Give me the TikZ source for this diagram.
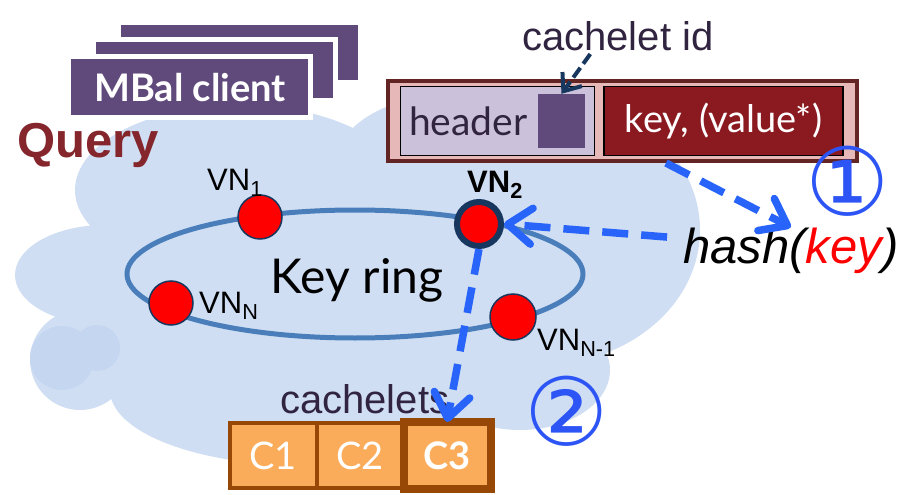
\documentclass[tikz,border=0pt]{standalone}
\usepackage{fontspec}
\setmainfont{Liberation Sans}
\newfontfamily\gillfont{Lato}
\newfontfamily\symfont{DejaVu Sans}
\usetikzlibrary{arrows.meta,positioning,calc}

\definecolor{cloudblue}{RGB}{207,222,243}
\definecolor{cloudshade}{RGB}{197,215,240}
\definecolor{mbpurple}{RGB}{96,74,123}
\definecolor{qred}{RGB}{132,38,43}
\definecolor{pktpink}{RGB}{230,185,184}
\definecolor{pktborder}{RGB}{99,37,35}
\definecolor{hdrlav}{RGB}{204,193,218}
\definecolor{keyred}{RGB}{138,26,32}
\definecolor{darktext}{RGB}{48,36,64}
\definecolor{cidnavy}{RGB}{23,55,94}
\definecolor{ringblue}{RGB}{74,126,187}
\definecolor{vnnavy}{RGB}{23,55,94}
\definecolor{flowblue}{RGB}{40,100,250}
\definecolor{numblue}{RGB}{45,85,245}
\definecolor{corange}{RGB}{250,172,90}
\definecolor{cbrown}{RGB}{151,72,6}

\newcommand{\fsz}[1]{\fontsize{#1}{#1}\selectfont}

\begin{document}
\begin{tikzpicture}[x=1pt,y=-1pt,
  vn/.style={circle,draw=vnnavy,line width=1.5pt,fill=red,minimum size=44pt,inner sep=0pt},
  lbl/.style={inner sep=0pt,anchor=base west,font=\fsz{31}},
  flow/.style={flowblue,line width=7.5pt,dash pattern=on 26pt off 13pt,-{Straight Barb[length=24pt,width=36pt,round]}},
  stepnum/.style={inner sep=0pt,text=numblue,font=\symfont\fsz{94}},
  cbox/.style={draw=cbrown,line width=4pt,fill=corange,minimum width=87pt,minimum height=65pt,inner sep=0pt,outer sep=0pt,text=white,font=\gillfont\fsz{38}},
  client/.style={draw=white,line width=5pt,fill=mbpurple,minimum width=242pt,minimum height=60pt,inner sep=0pt}]

\useasboundingbox (0,0) rectangle (916,495);

% cloud
\fill[cloudblue] (330,290) ellipse [x radius=250,y radius=150]
  (540,230) ellipse [x radius=160,y radius=135]
  (460,165) ellipse [x radius=125,y radius=72]
  (240,190) ellipse [x radius=165,y radius=85]
  (105,275) ellipse [x radius=90,y radius=50]
  (80,360) circle [radius=50]
  (300,390) ellipse [x radius=190,y radius=75]
  (520,370) ellipse [x radius=90,y radius=60];
\fill[cloudshade] (62,358) circle [radius=32] (97,348) circle [radius=23];

% client stack
\node[client,name=cback] at (239,53) {};
\node[client,name=cmid] at (214,70) {};
\node[client,name=cfront] at (189,87) {};
\node[name=mbal,anchor=base,inner sep=0pt,text=white,font=\gillfont\bfseries\fsz{38}] at (190,101) {MBal client};
\node[name=query,anchor=base west,inner sep=0pt,text=qred,font=\bfseries\fsz{49}] at (17,157) {Query};

% packet
\node[name=pkt,draw=pktborder,line width=4pt,fill=pktpink,minimum width=469pt,minimum height=80pt] at (622.5,121) {};
\node[name=hdr,draw=black,line width=1.5pt,fill=hdrlav,minimum width=194pt,minimum height=69pt] at (497.5,121) {};
\node[name=idsq,fill=mbpurple,minimum width=47pt,minimum height=54pt,inner sep=0pt] at (561.5,121) {};
\node[name=hdrtxt,anchor=base west,inner sep=0pt,text=darktext,font=\gillfont\fsz{39}] at (409,135) {header};
\node[name=keyf,draw=black,line width=1.5pt,fill=keyred,minimum width=239pt,minimum height=69pt,text=white,font=\gillfont\fsz{38}] at (723.5,121) {key, (value*)};
\node[name=cid,anchor=base west,inner sep=0pt,text=darktext,font=\fsz{40}] at (522,51) {cachelet id};

% key ring
\draw[ringblue,line width=5pt] (355,274) ellipse [x radius=228,y radius=64];
\node[name=ring,font=\gillfont\fsz{48}] at (357,280) {Key ring};

\node[vn,name=vnone] at (260,217) {};
\node[vn,name=vntwo,line width=6pt] at (479,224) {};
\node[vn,name=vnn] at (171,303) {};
\node[vn,name=vnnm,minimum size=46pt] at (513,317) {};

\node[lbl,name=vnonelbl] at (207,190) {VN\textsubscript{1}};
\node[lbl,name=vntwolbl,font=\bfseries\fsz{31}] at (467,192) {VN\textsubscript{2}};
\node[lbl,name=vnnlbl] at (199,313) {VN\textsubscript{N}};
\node[lbl,name=vnnmlbl] at (537,350) {VN\textsubscript{N-1}};

\node[name=hash,anchor=base west,inner sep=0pt,font=\itshape\fsz{49}] at (683,263) {hash(\textcolor{red}{key})};
\node[stepnum,name=stepone] at (848,181) {①};
\node[stepnum,name=steptwo] at (567,411) {②};

% cachelets
\node[name=cachelets,anchor=base west,inner sep=0pt,text=darktext,font=\fsz{40}] at (280,413) {cachelets};
\node[cbox,name=cone] at (273,455.5) {C1};
\node[cbox,name=ctwo,right=0pt of cone] {C2};
\node[cbox,name=cthree,right=0pt of ctwo,line width=8pt,minimum height=67pt,font=\gillfont\bfseries\fsz{38}] {C3};

\draw[cidnavy,line width=4pt,dash pattern=on 12pt off 5pt,shorten <=3pt,-{Straight Barb[length=15pt,width=24pt]}] (cid.-150) -- (idsq.north);
\draw[flow] (pkt.-44) -- (hash.north);
\draw[flow,shorten <=16pt] ([yshift=12pt]hash.west) -- (vntwo.east);
\draw[flow] (vntwo.south) -- (cthree.north);
\end{tikzpicture}
\end{document}
